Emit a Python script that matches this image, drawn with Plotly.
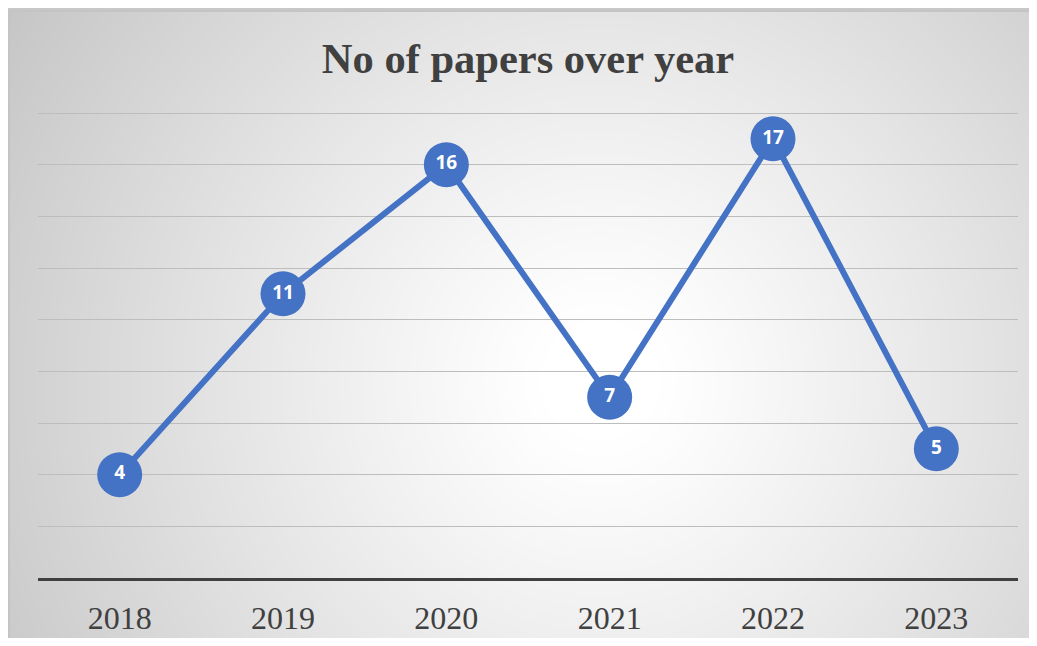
import base64, struct, zlib
import numpy as np
import plotly.graph_objects as go

years = ["2018", "2019", "2020", "2021", "2022", "2023"]
papers = [4, 11, 16, 7, 17, 5]
title_text = "No of papers over year"

# page body has an 8px margin, so the figure is drawn at (8, 8)
OFF = 8
W, H = 1037 - 2 * OFF, 646 - 2 * OFF
UNIT = 465 / 18.0          # pixels per paper in the reference
EXTRA = 5                  # px of headroom so the top gridline is drawn
YMAX = 18 + EXTRA / UNIT
L, T = 38 - OFF, 113 - OFF - EXTRA
R, B = (W + OFF) - 1018, (H + OFF) - 578
pw, ph = W - L - R, H - T - B

# radial gradient background png
bx0, by0 = 8 - OFF, 10 - OFF
bw, bh = W - bx0 + 12, H - by0 + 12
yy, xx = np.mgrid[0:bh, 0:bw]
cx, cy = 600 - OFF - bx0, 380 - OFF - by0
d = np.sqrt((xx - cx) ** 2 + (yy - cy) ** 2)
t = np.clip((d - 60) / 640.0, 0, 1) ** 1.1
img = (255 - 57 * t).astype(np.uint8)


def png_gray(a):
    h, w = a.shape
    raw = b"".join(b"\x00" + a[i].tobytes() for i in range(h))

    def chunk(tag, data):
        c = struct.pack(">I", len(data)) + tag + data
        return c + struct.pack(">I", zlib.crc32(tag + data) & 0xFFFFFFFF)

    return (b"\x89PNG\r\n\x1a\n" + chunk(b"IHDR", struct.pack(">IIBBBBB", w, h, 8, 0, 0, 0, 0))
            + chunk(b"IDAT", zlib.compress(raw, 9)) + chunk(b"IEND", b""))


uri = "data:image/png;base64," + base64.b64encode(png_gray(img)).decode()

fig = go.Figure()
fig.add_trace(go.Scatter(
    x=years, y=papers, mode="lines+markers+text",
    line=dict(color="#4472C4", width=6),
    marker=dict(size=45, color="#4472C4", line=dict(width=0)),
    text=[str(v) for v in papers], textposition="middle center",
    textfont=dict(family="Open Sans", size=19, color="white", weight="bold"),
    hoverinfo="skip", cliponaxis=False,
))

px0 = (bx0 - L) / pw
py_top = (H - by0 - B) / ph
fig.add_layout_image(dict(
    source=uri, xref="paper", yref="paper", x=px0, y=py_top,
    sizex=bw / pw, sizey=bh / ph, xanchor="left", yanchor="top",
    sizing="stretch", layer="below",
))
fig.add_shape(type="rect", xref="paper", yref="paper", x0=px0 + 1 / pw, y0=py_top - (bh + 10) / ph,
              x1=(W - L + 20) / pw, y1=py_top - 1 / ph, line=dict(color="#c4c4c4", width=2), layer="below")

fig.update_layout(
    width=W, height=H,
    margin=dict(l=L, r=R, t=T, b=B, autoexpand=False),
    paper_bgcolor="#c8c8c8", plot_bgcolor="rgba(0,0,0,0)",
    showlegend=False,
    title=dict(text=title_text, x=(528 - OFF) / W, xanchor="center", y=1 - (58 - OFF) / H, yanchor="middle",
               automargin=False,
               font=dict(family="Liberation Serif", size=42.5, color="#404040", weight="bold")),
    xaxis=dict(type="category", range=[-0.5, 5.5], showgrid=False, showline=True, automargin=False,
               linecolor="#404040", linewidth=3, ticks="", ticklabelstandoff=10,
               tickfont=dict(family="Liberation Serif", size=32, color="#404040"), fixedrange=True),
    yaxis=dict(range=[0, YMAX], dtick=2, showgrid=True, gridcolor="#bdbdbd", gridwidth=1.3,
               automargin=False, zeroline=False, showticklabels=False, fixedrange=True),
)

fig.write_html("out.html", config={"displayModeBar": False})
